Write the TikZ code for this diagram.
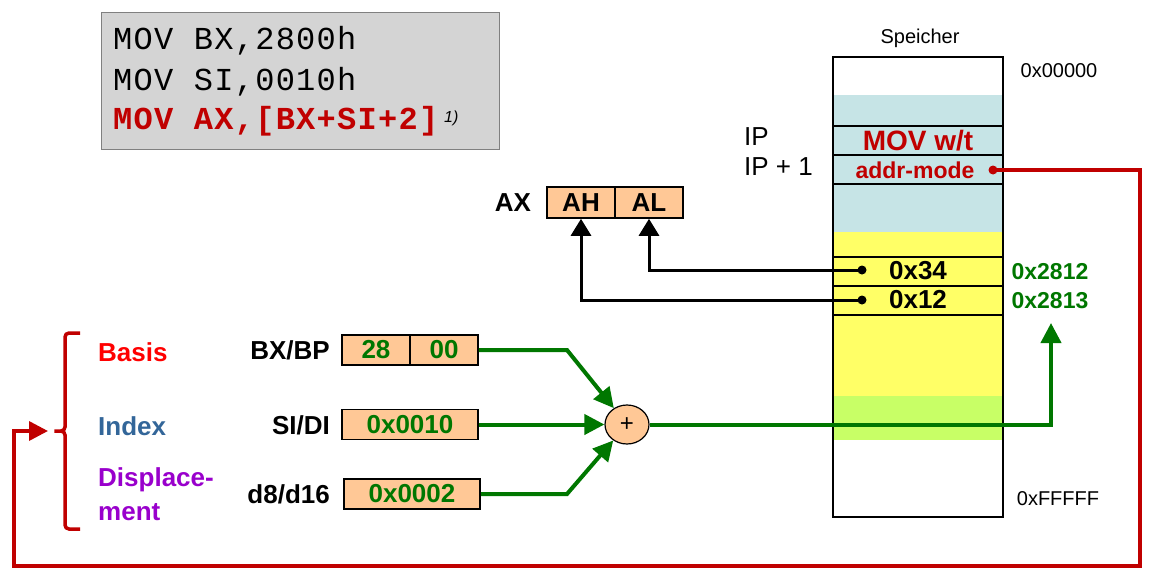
\documentclass[tikz,border=0pt]{standalone}
\usepackage{fontspec}
\setmainfont{Liberation Sans}
\newfontfamily\monof[LetterSpace=4]{Liberation Mono}
\usetikzlibrary{arrows.meta,calc,shapes.geometric}
\definecolor{dred}{HTML}{C00000}
\definecolor{dgreen}{HTML}{007700}
\definecolor{regfill}{HTML}{FFC896}
\definecolor{lblue}{HTML}{C6E4E6}
\definecolor{yel}{HTML}{FFFF66}
\definecolor{lgreen}{HTML}{C8FF66}
\definecolor{idxblue}{HTML}{336699}
\definecolor{purp}{HTML}{9900CC}
\definecolor{codegray}{HTML}{D4D4D4}
\newcommand{\fs}[1]{\fontsize{#1}{#1}\selectfont}
\begin{document}
\begin{tikzpicture}[x=1pt,y=-1pt,
  reg/.style={draw=black, line width=1.6pt, fill=regfill, minimum height=30pt, inner sep=0pt, font=\fs{26}\bfseries},
  lbl/.style={inner sep=0pt, font=\fs{26}\bfseries},
  memtxt/.style={inner sep=0pt, font=\fs{20}},
  dot/.style={circle, fill=#1, inner sep=0pt, minimum size=9pt},
  garrow/.style={draw=dgreen, line width=4pt, -{Triangle[length=20pt,width=20pt]}},
  barrow/.style={draw=black, line width=3pt, -{Triangle[length=17pt,width=20pt]}},
  rarrow/.style={draw=dred, line width=3.5pt, -{Triangle[length=19pt,width=19pt]}},
  memline/.style={draw=black, line width=1.3pt},
  codeline/.style={anchor=base west, inner sep=0pt, font=\monof\fs{32}},
]
\useasboundingbox (0,0) rectangle (1152,576);
% code box
\node[draw=gray, line width=1.3pt, fill=codegray, minimum width=398pt, minimum height=137pt, anchor=north west, inner sep=0pt] (code) at (101,12) {};
\node[codeline] (c1) at (113,49) {MOV BX,2800h};
\node[codeline] (c2) at (113,90) {MOV SI,0010h};
\node[codeline, text=dred, font=\monof\fs{32}\bfseries] (c3) at (113,129) {MOV AX,[BX+SI+2]};
\node[anchor=base west, inner sep=0pt, font=\fs{16}\itshape] (fn) at (444,122) {1)};
% memory
\fill[lblue] (833,95) rectangle (1003,232);
\fill[yel] (833,232) rectangle (1003,396);
\fill[lgreen] (833,396) rectangle (1003,440);
\foreach \yy in {126,155,184,257,286,315} \draw[memline] (833,\yy) -- (1003,\yy);
\draw[memline] (833,57) rectangle (1003,517);
\node[memtxt] (speicher) at (920,38) {Speicher};
\node[memtxt] (a0) at (1059,71) {0x00000};
\node[memtxt] (af) at (1058,499) {0xFFFFF};
\node[inner sep=0pt, font=\fs{26}, anchor=west] (ip) at (744,137) {IP};
\node[inner sep=0pt, font=\fs{26}, anchor=west] (ip1) at (744,167) {IP + 1};
\node[inner sep=0pt, font=\fs{28}\bfseries, text=dred] (movwt) at (918,141) {MOV w/t};
\node[inner sep=0pt, font=\fs{23}\bfseries, text=dred] (addr) at (915,170) {addr-mode};
\node[dot=dred] (adot) at (993,170) {};
\node[lbl] (v34) at (918,271) {0x34};
\node[lbl] (v12) at (918,300) {0x12};
\node[inner sep=0pt, font=\fs{23}\bfseries, text=dgreen] (m2812) at (1050,272) {0x2812};
\node[inner sep=0pt, font=\fs{23}\bfseries, text=dgreen] (m2813) at (1050,301) {0x2813};
\node[dot=black] (d34) at (862,270) {};
\node[dot=black] (d12) at (862,300) {};
% AX register
\node[lbl] (ax) at (513,203) {AX};
\node[reg, minimum width=68pt, minimum height=31pt] (ah) at (581,202.5) {AH};
\node[reg, minimum width=68pt, minimum height=31pt] (al) at (649,202.5) {AL};
\draw[barrow] (d34.center) -| (al.south);
\draw[barrow] (d12.center) -| (ah.south);
% left registers
\node[lbl, anchor=east] (bxbp) at (330,350) {BX/BP};
\node[lbl, anchor=east] (sidi) at (330,425) {SI/DI};
\node[lbl, anchor=east] (d816) at (330,494) {d8/d16};
\node[reg, minimum width=68pt, text=dgreen] (r28) at (376,350) {28};
\node[reg, minimum width=68pt, text=dgreen] (r00) at (444,350) {00};
\node[reg, minimum width=136pt, text=dgreen] (rsi) at (410,424.5) {0x0010};
\node[reg, minimum width=136pt, text=dgreen] (rd) at (412,494) {0x0002};
\node[lbl, anchor=west, text=red] (basis) at (98,352) {Basis};
\node[lbl, anchor=west, text=idxblue] (index) at (98,426) {Index};
\node[lbl, anchor=west, text=purp] (disp1) at (98,480) {Displace-};
\node[lbl, anchor=west, text=purp] (disp2) at (98,512) {ment};
% adder
\node[ellipse, draw=black, line width=1.2pt, fill=regfill, minimum width=44pt, minimum height=39pt, inner sep=0pt, font=\fs{24}] (sum) at (627,424.5) {+};
\coordinate (kb) at (567,350);
\coordinate (kd) at (567,494);
\coordinate (outtip) at (1051,323);
\draw[garrow] (r00.east) -- (kb) -- (sum);
\draw[garrow] (rsi.east) -- (sum.west);
\draw[garrow] (rd.east) -- (kd) -- (sum);
\draw[garrow] (sum.east) -| (outtip);
% brace and red loop
\draw[dred, line width=3.5pt, rounded corners=4pt] (80,333) -- (65,333) -- (65,431) -- (52,431) -- (65,431) -- (65,529) -- (80,529);
\coordinate (btip) at (48,431);
\draw[rarrow] (adot.center) -| (1140,566) -| (14,431) -- (btip);
\end{tikzpicture}
\end{document}
